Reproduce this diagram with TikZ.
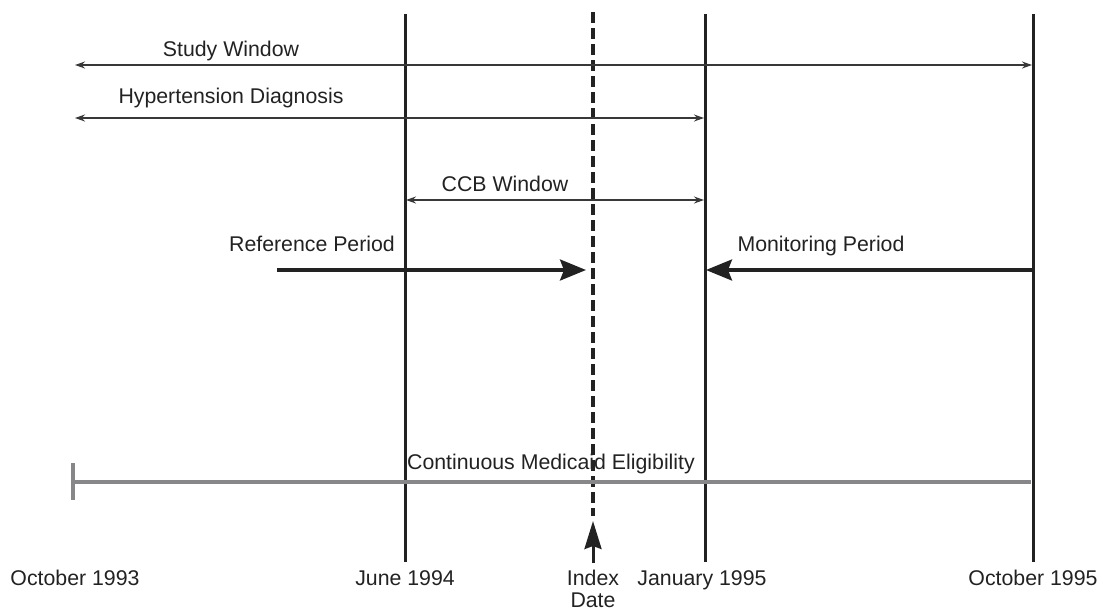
\documentclass[tikz,border=0pt]{standalone}
\usepackage{fontspec}
\setmainfont{Liberation Sans}
\usetikzlibrary{arrows.meta}
\definecolor{ink}{HTML}{222222}
\definecolor{greyline}{HTML}{87878A}
\begin{document}
\begin{tikzpicture}[x=1pt,y=-1pt,
  lbl/.style={anchor=base,inner sep=0pt,text=ink,font=\fontsize{21.3}{25}\selectfont},
  vline/.style={draw=ink,line width=3pt},
  thinarrow/.style={draw=ink!90,line width=1.4pt,{Stealth[length=10pt,width=7pt]}-{Stealth[length=10pt,width=7pt]}},
  thickarrow/.style={draw=ink,line width=3.2pt,-{Stealth[length=26pt,width=21pt,inset=4pt]}},
  dashline/.style={draw=ink,line width=4.2pt,dash pattern=on 11pt off 5pt},
  greybar/.style={draw=greyline,line width=3.4pt}]
\useasboundingbox (0,0) rectangle (1103,611);
% vertical date lines
\coordinate (june-t) at (405,14);   \coordinate (june-b) at (405,562);
\coordinate (jan-t)  at (705,14);   \coordinate (jan-b)  at (705,562);
\coordinate (oct-t)  at (1033,14);  \coordinate (oct-b)  at (1033,562);
\coordinate (idx-t)  at (593,12);   \coordinate (idx-b)  at (593,516);
\draw[vline] (june-t) -- (june-b);
\draw[vline] (jan-t) -- (jan-b);
\draw[vline] (oct-t) -- (oct-b);
\draw[dashline] (idx-t) -- (idx-b);
% Study window
\node[lbl] (sw) at (231,56) {Study Window};
\coordinate (sw-l) at (75,65); \coordinate (sw-r) at (1032,65);
\draw[thinarrow] (sw-l) -- (sw-r);
% Hypertension
\node[lbl] (hd) at (231,103) {Hypertension Diagnosis};
\coordinate (hd-l) at (75,118); \coordinate (hd-r) at (704,118);
\draw[thinarrow] (hd-l) -- (hd-r);
% CCB window
\node[lbl] (ccb) at (505,191) {CCB Window};
\coordinate (ccb-l) at (406,200); \coordinate (ccb-r) at (704,200);
\draw[thinarrow] (ccb-l) -- (ccb-r);
% Reference / Monitoring periods
\node[lbl] (ref) at (312,251) {Reference Period};
\coordinate (ref-s) at (277,270); \coordinate (ref-e) at (586,270);
\draw[thickarrow] (ref-s) -- (ref-e);
\node[lbl] (mon) at (821,251) {Monitoring Period};
\coordinate (mon-s) at (1033,270); \coordinate (mon-e) at (706,270);
\draw[thickarrow] (mon-s) -- (mon-e);
% Continuous Medicaid Eligibility
\node[lbl] (cme) at (551,469) {Continuous Medicaid Eligibility};
\coordinate (cme-l) at (73,482); \coordinate (cme-r) at (1031,482);
\coordinate (cme-bt) at (73,463); \coordinate (cme-bb) at (73,500);
\draw[greybar] (cme-l) -- (cme-r);
\draw[greybar] (cme-bt) -- (cme-bb);
% Index date arrow
\coordinate (ia-s) at (593,563); \coordinate (ia-e) at (593,521);
\draw[draw=ink,line width=3pt,-{Stealth[length=28pt,width=17pt,inset=3pt]}] (ia-s) -- (ia-e);
% bottom labels
\node[lbl] (d1) at (75,585) {October 1993};
\node[lbl] (d2) at (405,585) {June 1994};
\node[lbl] (d3) at (593,585) {Index};
\node[lbl] (d3b) at (593,607) {Date};
\node[lbl] (d4) at (702,585) {January 1995};
\node[lbl] (d5) at (1033,585) {October 1995};
\end{tikzpicture}
\end{document}
